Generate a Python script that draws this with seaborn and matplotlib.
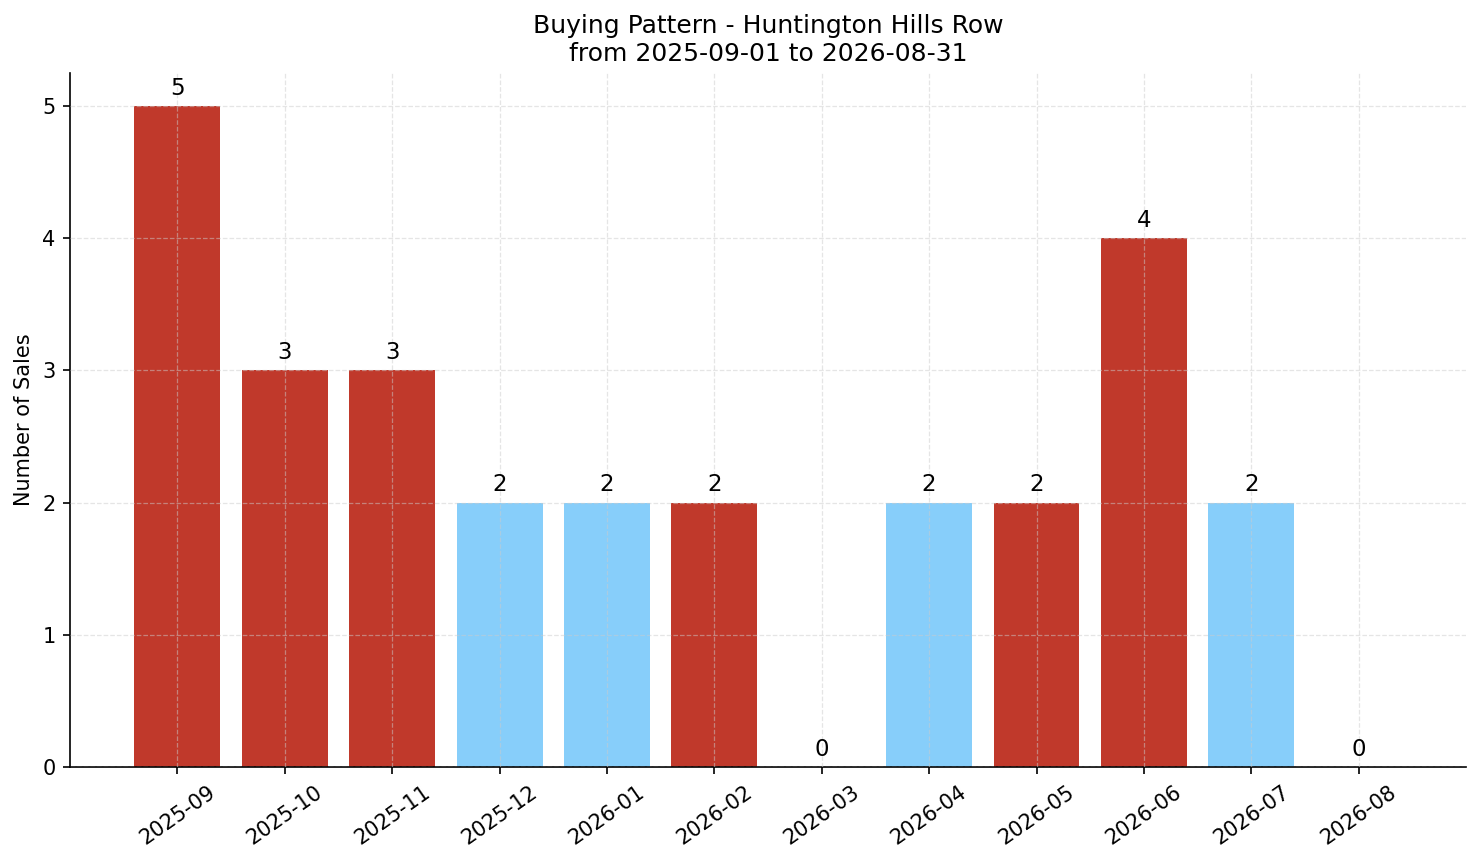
import matplotlib
matplotlib.use("Agg")
import matplotlib.pyplot as plt
import seaborn as sns
import pandas as pd

months = ["2025-09", "2025-10", "2025-11", "2025-12", "2026-01", "2026-02",
          "2026-03", "2026-04", "2026-05", "2026-06", "2026-07", "2026-08"]
sales = [5, 3, 3, 2, 2, 2, 0, 2, 2, 4, 2, 0]
bar_colors = ["#C0392B", "#C0392B", "#C0392B", "#87CEFA", "#87CEFA", "#C0392B",
              "#C0392B", "#87CEFA", "#C0392B", "#C0392B", "#87CEFA", "#C0392B"]

df = pd.DataFrame({"month": months, "sales": sales})

fig, ax = plt.subplots(figsize=(1481 / 150, 863 / 150), dpi=150)
sns.barplot(data=df, x="month", y="sales", hue="month", palette=bar_colors,
            legend=False, width=0.8, saturation=1, ax=ax)

for c in ax.containers:
    ax.bar_label(c, padding=3, fontsize=11)

ax.set_xlim(-1, 12)
ax.set_ylim(0, 5.25)
ax.set_xlabel("")
ax.set_ylabel("Number of Sales", fontsize=10)
ax.set_title("Buying Pattern - Huntington Hills Row\nfrom 2025-09-01 to 2026-08-31", fontsize=12)
ax.grid(True, linestyle="--", color="#cccccc", alpha=0.5, linewidth=0.6)
ax.set_axisbelow(False)
ax.tick_params(axis="x", rotation=35, labelsize=10)
ax.tick_params(axis="y", labelsize=10)
sns.despine(ax=ax)

fig.subplots_adjust(left=0.0473, right=0.9899, top=0.9154, bottom=0.1112)
fig.savefig("out.png", dpi=150)
